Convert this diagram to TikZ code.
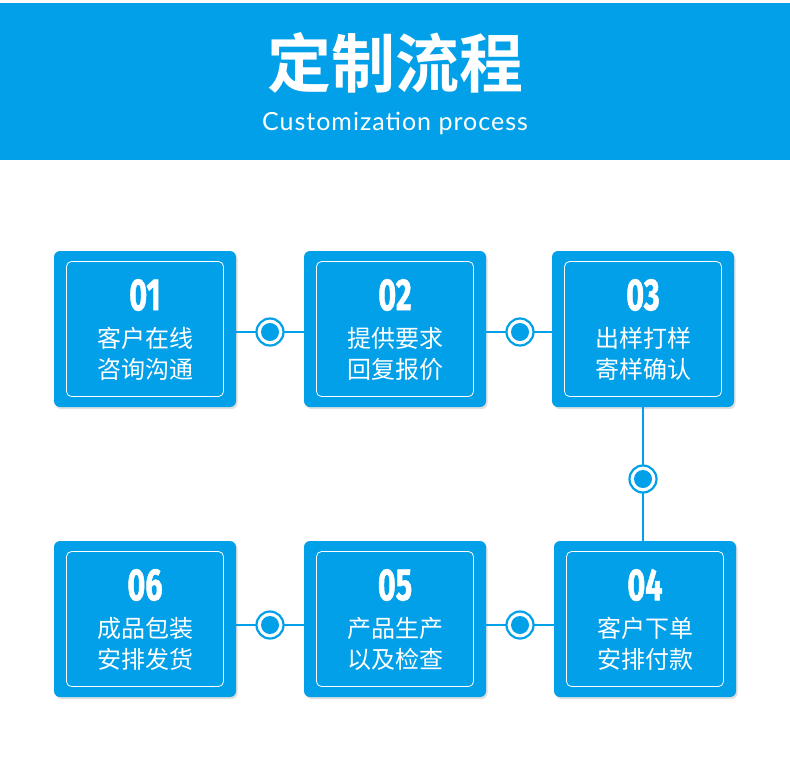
\documentclass[tikz,border=0pt]{standalone}
\usepackage{fontspec}
\newfontfamily\cjk{Noto Sans CJK SC}
\newfontfamily\cjkbold{Noto Sans CJK SC Bold}
\newfontfamily\numfont{Fira Sans}[BoldFeatures={FakeBold=1.5}]
\newfontfamily\latfont{Lato}[LetterSpace=4]
\usetikzlibrary{shadows}
\definecolor{mblue}{HTML}{02A0E8}
\tikzset{
  x=1pt,y=-1pt,
  stepbox/.style={fill=mblue,rounded corners=6pt,minimum width=182pt,minimum height=156pt,
    drop shadow={opacity=0.25,shadow xshift=1.5pt,shadow yshift=-2pt}},
  innerbox/.style={draw=white,line width=0.8pt,rounded corners=5pt,minimum width=157pt,minimum height=135pt},
  numtext/.style={text=white,font=\numfont\bfseries\fontsize{45}{45}\selectfont},
  labtext/.style={text=white,font=\cjk\fontsize{24}{31}\selectfont,align=center},
  dot/.style={circle,fill=white,draw=mblue,line width=2.2pt,minimum size=27pt,inner sep=0pt,
    path picture={\fill[mblue] (path picture bounding box.center) circle (9pt);}},
  link/.style={draw=mblue,line width=2pt}
}
\newcommand{\stepnode}[5]{%
  \node[stepbox] (#1) at (#2) {};
  \node[innerbox] (#1i) at (#1) {};
  \node[numtext] (#1n) at ([yshift=34pt]#1.center) {\scalebox{0.68}[1]{#3}};
  \node[labtext] (#1t) at ([yshift=-25pt]#1.center) {#4\\#5};
}
\begin{document}
\begin{tikzpicture}
\useasboundingbox (0,0) rectangle (790,761);
\fill[white] (0,0) rectangle (790,761);
\node[fill=mblue,minimum width=790pt,minimum height=157pt,inner sep=0pt,anchor=north west] (band) at (0,3) {};
\node[text=white,font=\cjkbold\fontsize{64}{64}\selectfont] (title) at (395,63) {定制流程};
\node[text=white,font=\latfont\fontsize{25}{25}\selectfont] (sub) at (395,123) {Customization process};
\stepnode{s1}{145,329}{01}{客户在线}{咨询沟通}
\stepnode{s2}{395,329}{02}{提供要求}{回复报价}
\stepnode{s3}{643,329}{03}{出样打样}{寄样确认}
\stepnode{s4}{645,619}{04}{客户下单}{安排付款}
\stepnode{s5}{395,619}{05}{产品生产}{以及检查}
\stepnode{s6}{145,619}{06}{成品包装}{安排发货}
\coordinate (c12) at (270,332);
\coordinate (c23) at (520,332);
\coordinate (c34) at (643,479);
\coordinate (c54) at (520,625);
\coordinate (c65) at (270,625);
\draw[link] (s1.east|-c12) -- (s2.west|-c12);
\draw[link] (s2.east|-c23) -- (s3.west|-c23);
\draw[link] (s3.south-|c34) -- (s4.north-|c34);
\draw[link] (s5.east|-c54) -- (s4.west|-c54);
\draw[link] (s6.east|-c65) -- (s5.west|-c65);
\node[dot] (d12) at (c12) {};
\node[dot] (d23) at (c23) {};
\node[dot] (d34) at (c34) {};
\node[dot] (d54) at (c54) {};
\node[dot] (d65) at (c65) {};
\end{tikzpicture}
\end{document}
